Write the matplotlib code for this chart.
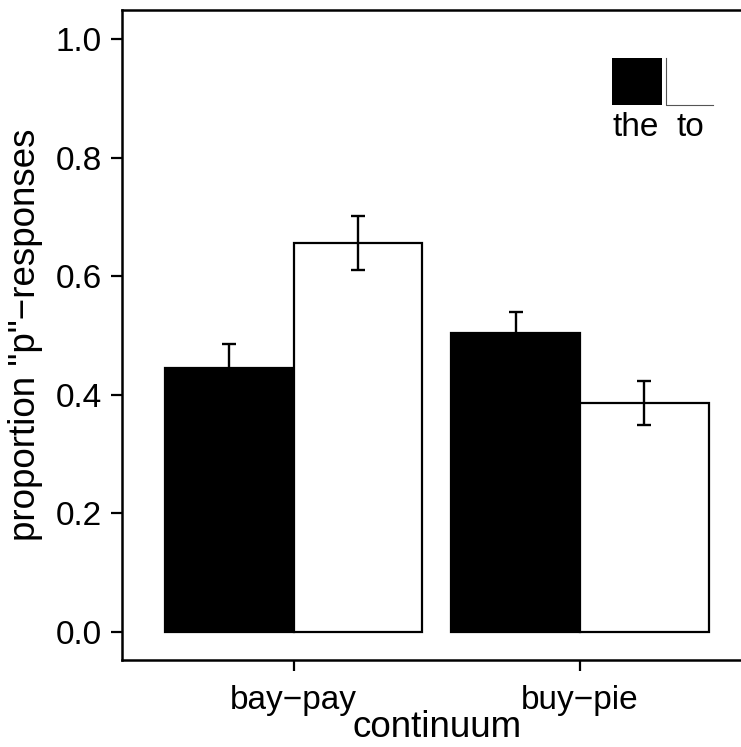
import matplotlib
matplotlib.use("Agg")
import matplotlib.pyplot as plt
import numpy as np

plt.rcParams['font.family'] = ['Liberation Sans', 'DejaVu Sans']

# proportion of "p" responses per continuum and preceding word
continua = ["bay\u2212pay", "buy\u2212pie"]
groups = ["the", "to"]
means = {"the": [0.445, 0.505], "to": [0.656, 0.386]}
ses = {"the": [0.040, 0.035], "to": [0.046, 0.037]}
fills = {"the": "black", "to": "white"}

fig = plt.figure(figsize=(7.41, 7.47), dpi=100)
ax = fig.add_axes([122 / 741, 87 / 747, 629.6 / 741, 650 / 747])

x = np.arange(1, len(continua) + 1)
w = 0.45
for i, g in enumerate(groups):
    pos = x + (i - 0.5) * w
    ax.bar(pos, means[g], width=w, color=fills[g], edgecolor="black",
           linewidth=1.6, zorder=2)
    ax.errorbar(pos, means[g], yerr=ses[g], fmt="none", ecolor="black",
                elinewidth=1.7, capsize=5, capthick=1.7, zorder=3)

ax.set_xlim(0.4, 2.6)
ax.set_ylim(-0.0472, 1.0489)
ax.set_xticks(x)
ax.set_xticklabels(continua)
ax.set_yticks([0.0, 0.2, 0.4, 0.6, 0.8, 1.0])
ax.set_yticklabels(["0.0", "0.2", "0.4", "0.6", "0.8", "1.0"])
ax.tick_params(axis="both", labelsize=24, length=8, width=1.6, color="black")
ax.tick_params(axis="y", pad=6.5)
ax.tick_params(axis="x", pad=10)
for s in ax.spines.values():
    s.set_linewidth(1.8)

ax.set_xlabel("continuum", fontsize=26.5, labelpad=-4)
ax.set_ylabel('proportion "p"\u2212responses', fontsize=26.5, labelpad=9)

# legend: keys side by side with labels underneath
tr = fig.transFigure
W, H = 741, 747
ax.add_patch(plt.Rectangle((612 / W, 1 - 105 / H), 50 / W, 47 / H,
                           transform=tr, facecolor="black", edgecolor="none",
                           clip_on=False))
ax.add_line(plt.Line2D([666 / W, 666 / W, 713 / W],
                       [1 - 58 / H, 1 - 104.5 / H, 1 - 104.5 / H],
                       transform=tr, color="#555555", linewidth=0.8,
                       clip_on=False))
fig.text(636 / W, 1 - 136 / H, "the", ha="center", va="baseline", fontsize=24)
fig.text(690 / W, 1 - 136 / H, "to", ha="center", va="baseline", fontsize=24)

fig.savefig("out.png", dpi=100)
